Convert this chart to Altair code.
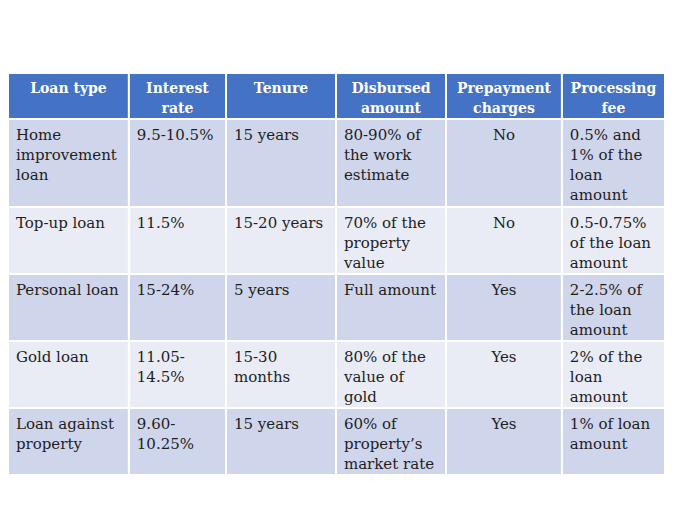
import altair as alt
import numpy as np
import pandas as pd

# ---- table content ----
headers = ["Loan type", "Interest\nrate", "Tenure", "Disbursed\namount",
           "Prepayment\ncharges", "Processing\nfee"]
loan_type = ["Home\nimprovement\nloan", "Top-up loan", "Personal loan",
             "Gold loan", "Loan against\nproperty"]
interest_rate = ["9.5-10.5%", "11.5%", "15-24%", "11.05-\n14.5%", "9.60-\n10.25%"]
tenure = ["15 years", "15-20 years", "5 years", "15-30\nmonths", "15 years"]
disbursed_amount = ["80-90% of\nthe work\nestimate", "70% of the\nproperty\nvalue",
                    "Full amount", "80% of the\nvalue of\ngold",
                    "60% of\nproperty\u2019s\nmarket rate"]
prepayment_charges = ["No", "No", "Yes", "Yes", "Yes"]
processing_fee = ["0.5% and\n1% of the\nloan\namount", "0.5-0.75%\nof the loan\namount",
                  "2-2.5% of\nthe loan\namount", "2% of the\nloan\namount",
                  "1% of loan\namount"]

# ---- layout (not data) ----
COL_WIDTHS = [122, 98, 111, 111, 117, 104]
CENTERED_BODY_COLS = {4}
LINE_H = 20
PAD_X = 8
VIEW_W = 657

columns = [loan_type, interest_rate, tenure, disbursed_amount,
           prepayment_charges, processing_fee]
rows = [headers] + [list(r) for r in zip(*columns)]

xedges = np.concatenate([[0], np.cumsum(COL_WIDTHS)])
row_lines = [max(len(c.split("\n")) for c in r) for r in rows]
row_h = [21 * n + 4 for n in row_lines]
yedges = np.concatenate([[0], np.cumsum(row_h)])
TOTAL_W = float(xedges[-1])
TOTAL_H = float(yedges[-1])

cell_recs, text_recs = [], []
for r, row in enumerate(rows):
    kind = "header" if r == 0 else ("odd" if r % 2 == 1 else "even")
    for c, val in enumerate(row):
        cell_recs.append(dict(x=xedges[c], x2=xedges[c + 1],
                              y=yedges[r], y2=yedges[r + 1], kind=kind))
        for i, line in enumerate(val.split("\n")):
            if r == 0:
                style, tx, off = "header", (xedges[c] + xedges[c + 1]) / 2, 20
            elif c in CENTERED_BODY_COLS:
                style, tx, off = "center", (xedges[c] + xedges[c + 1]) / 2, 21
            else:
                style, tx, off = "left", xedges[c] + PAD_X, 21
            text_recs.append(dict(x=tx, y=yedges[r] + off + i * LINE_H,
                                  text=line, style=style))

cells = pd.DataFrame(cell_recs)
texts = pd.DataFrame(text_recs)

xs = alt.Scale(domain=[0, TOTAL_W], nice=False, zero=False)
ys = alt.Scale(domain=[0, TOTAL_H], nice=False, zero=False, reverse=True)

rects = alt.Chart(cells).mark_rect(stroke="white", strokeWidth=2).encode(
    x=alt.X("x:Q", scale=xs, axis=None),
    x2="x2:Q",
    y=alt.Y("y:Q", scale=ys, axis=None),
    y2="y2:Q",
    color=alt.Color("kind:N", legend=None,
                    scale=alt.Scale(domain=["header", "odd", "even"],
                                    range=["#4472C4", "#CFD5EA", "#E9EBF5"])),
)

def text_layer(style, align, color, size, weight):
    return alt.Chart(texts).transform_filter(alt.datum.style == style).mark_text(
        align=align, baseline="alphabetic", font="DejaVu Serif",
        fontSize=size, fontWeight=weight, color=color,
    ).encode(
        x=alt.X("x:Q", scale=xs, axis=None),
        y=alt.Y("y:Q", scale=ys, axis=None),
        text="text:N",
    )

chart = alt.layer(
    rects,
    text_layer("header", "center", "white", 14, "bold"),
    text_layer("left", "left", "#1e1e1e", 15, "normal"),
    text_layer("center", "center", "#1e1e1e", 15, "normal"),
).properties(
    width=VIEW_W, height=TOTAL_H,
    padding={"left": 0, "top": 65, "right": 0, "bottom": 40},
    autosize="none",
    background="white",
).configure_view(stroke=None)

chart.save("out.html", embed_options={"renderer": "svg", "actions": False})
